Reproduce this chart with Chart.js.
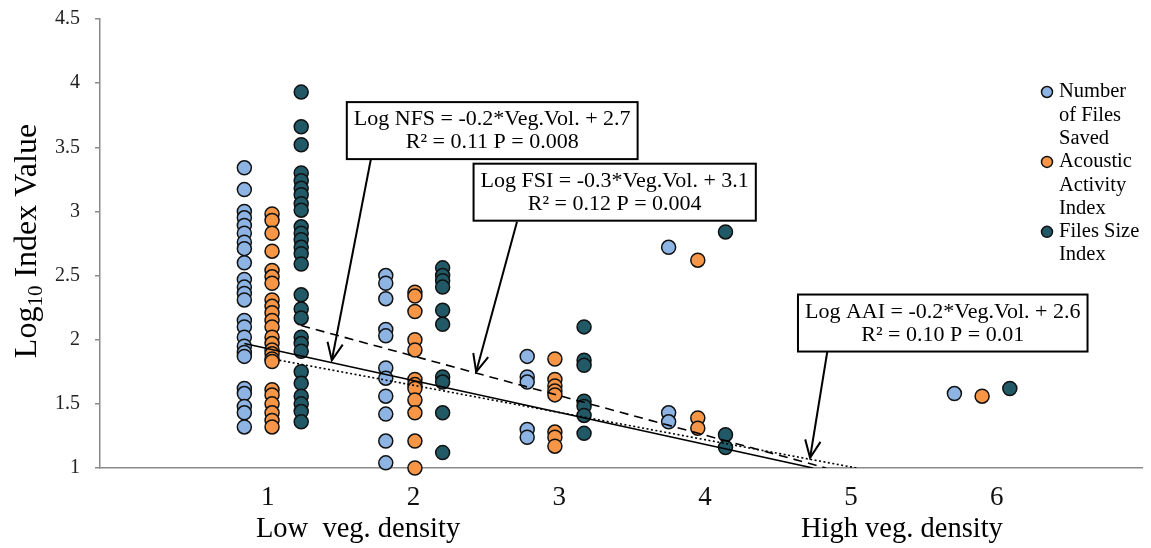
<!DOCTYPE html>
<html><head><meta charset="utf-8">
<script src="https://cdn.jsdelivr.net/npm/chart.js@4.4.1/dist/chart.umd.min.js"></script>
<style>html,body{margin:0;padding:0;background:#fff;}#wrap{width:1151px;height:548px;}</style>
</head><body><div id="wrap"><canvas id="c" width="1151" height="548"></canvas></div>
<script>
// ---- data ----
const seriesNames = ['Number of Files Saved', 'Acoustic Activity Index', 'Files Size Index'];
const xTickValues = [1, 2, 3, 4, 5, 6];
const yTickValues = [1, 1.5, 2, 2.5, 3, 3.5, 4, 4.5];
// x positions of each point column (one per density group 1,2,3,4,6)
const nfsX = [0.84, 1.81, 2.78, 3.75, 5.71];
const aaiX = [1.03, 2.01, 2.97, 3.95, 5.90];
const fsiX = [1.23, 2.20, 3.17, 4.14, 6.09];
const nfsValues = [
  [3.34,3.17,3.00,2.95,2.89,2.83,2.76,2.71,2.60,2.47,2.41,2.36,2.31,2.15,2.10,2.02,1.95,1.90,1.87,1.62,1.58,1.48,1.43,1.32],
  [2.50,2.44,2.32,2.08,2.03,1.78,1.70,1.56,1.42,1.21,1.04],
  [1.87,1.71,1.67,1.30,1.24],
  [2.72,1.43,1.36],
  [1.58]
];
const aaiValues = [
  [2.98,2.93,2.83,2.69,2.54,2.49,2.44,2.31,2.26,2.21,2.15,2.10,2.02,1.97,1.92,1.89,1.85,1.83,1.61,1.57,1.50,1.43,1.37,1.32],
  [2.37,2.34,2.22,2.00,1.92,1.69,1.65,1.62,1.53,1.43,1.21,1.00],
  [1.85,1.69,1.64,1.60,1.57,1.28,1.24,1.17],
  [2.62,1.39,1.31],
  [1.56]
];
const fsiValues = [
  [3.93,3.66,3.52,3.30,3.24,3.18,3.13,3.06,3.01,2.88,2.83,2.78,2.72,2.67,2.59,2.35,2.24,2.17,2.02,1.97,1.91,1.75,1.66,1.56,1.50,1.44,1.36],
  [2.56,2.50,2.46,2.41,2.23,2.12,1.71,1.67,1.43,1.12],
  [2.10,1.84,1.80,1.52,1.48,1.41,1.27],
  [2.84,1.26,1.16],
  [1.62]
];
// trend lines (start, end)
const nfsTrendX = [0.84, 4.74], nfsTrendY = [1.97, 1.00];
const fsiTrendX = [1.23, 4.83], fsiTrendY = [2.11, 1.00];
const aaiTrendX = [1.08, 5.04], aaiTrendY = [1.84, 1.00];
// regression labels
const nfsEq = ['Log NFS = -0.2*Veg.Vol. + 2.7', 'R\u00b2 = 0.11 P = 0.008'];
const fsiEq = ['Log FSI = -0.3*Veg.Vol. + 3.1', 'R\u00b2 = 0.12 P = 0.004'];
const aaiEq = ['Log AAI = -0.2*Veg.Vol. + 2.6', 'R\u00b2 = 0.10 P = 0.01'];
const legendLines = [['Number', 'of Files', 'Saved'], ['Acoustic', 'Activity', 'Index'], ['Files Size', 'Index']];
const densityLabels = ['Low  veg. density', 'High veg. density'];

// ---- styling ----
const FONT = '"Liberation Serif", "Times New Roman", serif';
const colors = ['#8DB4E2', '#F79646', '#215967'];

function toPoints(xs, vals) {
  const pts = [];
  vals.forEach((g, i) => g.forEach(v => pts.push({x: xs[i], y: v})));
  return pts;
}
function toLine(xs, ys) { return xs.map((x, i) => ({x, y: ys[i]})); }

const pointDs = (label, data, color) => ({
  type: 'scatter', label, data, order: 2, clip: false,
  pointRadius: 7, pointHoverRadius: 7, pointBackgroundColor: color,
  pointBorderColor: '#111', pointBorderWidth: 1.5, showLine: false
});
const lineDs = (label, data, dash) => ({
  type: 'line', label, data, order: 1, borderColor: '#000', borderWidth: 1.6,
  borderDash: dash, pointRadius: 0, fill: false, tension: 0
});

const annotations = {
  id: 'annotations',
  afterDatasetsDraw(chart) {
    const {ctx, scales: {x, y}} = chart;
    ctx.save();
    // arrows: [fromX, fromY, toX, toY] in data units
    const arrows = [[1.71, 3.42, 1.44, 1.84], [2.71, 2.92, 2.43, 1.75], [4.84, 1.92, 4.72, 1.08]];
    ctx.strokeStyle = '#000'; ctx.lineWidth = 2; ctx.setLineDash([]);
    arrows.forEach(a => {
      const x1 = x.getPixelForValue(a[0]), y1 = y.getPixelForValue(a[1]);
      const x2 = x.getPixelForValue(a[2]), y2 = y.getPixelForValue(a[3]);
      ctx.beginPath(); ctx.moveTo(x1, y1); ctx.lineTo(x2, y2); ctx.stroke();
      const ang = Math.atan2(y2 - y1, x2 - x1), L = 19, sp = 0.42;
      ctx.beginPath();
      ctx.moveTo(x2 - L * Math.cos(ang - sp), y2 - L * Math.sin(ang - sp));
      ctx.lineTo(x2, y2);
      ctx.lineTo(x2 - L * Math.cos(ang + sp), y2 - L * Math.sin(ang + sp));
      ctx.stroke();
    });
    // boxes: center in data units
    const boxes = [[nfsEq, 2.54, 3.63], [fsiEq, 3.38, 3.15], [aaiEq, 5.63, 2.13]];
    ctx.font = '22px ' + FONT;
    boxes.forEach(b => {
      const cx = x.getPixelForValue(b[1]), cy = y.getPixelForValue(b[2]);
      const w = Math.max(...b[0].map(t => ctx.measureText(t).width)) + 14;
      const h = 57;
      ctx.fillStyle = '#fff';
      ctx.fillRect(cx - w / 2, cy - h / 2, w, h);
      ctx.strokeStyle = '#000'; ctx.lineWidth = 2;
      ctx.strokeRect(cx - w / 2, cy - h / 2, w, h);
      ctx.fillStyle = '#000'; ctx.textAlign = 'center'; ctx.textBaseline = 'middle';
      ctx.fillText(b[0][0], cx, cy - 11);
      ctx.fillText(b[0][1], cx, cy + 12);
    });
    // legend
    ctx.textAlign = 'left'; ctx.textBaseline = 'middle';
    ctx.font = '20.5px ' + FONT;
    let ly = 92;
    legendLines.forEach((lines, i) => {
      ctx.beginPath(); ctx.arc(1047, ly, 5.5, 0, Math.PI * 2);
      ctx.fillStyle = colors[i]; ctx.fill();
      ctx.lineWidth = 1.5; ctx.strokeStyle = '#111'; ctx.stroke();
      ctx.fillStyle = '#000';
      lines.forEach(t => { ctx.fillText(t, 1059, ly); ly += 23.3; });
    });
    // density labels below x axis
    ctx.font = '28.5px ' + FONT; ctx.textAlign = 'center'; ctx.fillStyle = '#000';
    ctx.fillText(densityLabels[0], x.getPixelForValue(1.62), 530);
    ctx.fillText(densityLabels[1], x.getPixelForValue(5.35), 530);
    // y axis title with subscript
    ctx.translate(26, 241); ctx.rotate(-Math.PI / 2);
    const big = '32px ' + FONT, small = '21px ' + FONT;
    ctx.font = big; const w1 = ctx.measureText('Log').width, w3 = ctx.measureText(' Index Value').width;
    ctx.font = small; const w2 = ctx.measureText('10').width;
    let sx = -(w1 + w2 + w3) / 2;
    ctx.textAlign = 'left'; ctx.textBaseline = 'alphabetic';
    ctx.font = big; ctx.fillText('Log', sx, 10); sx += w1;
    ctx.font = small; ctx.fillText('10', sx, 16); sx += w2;
    ctx.font = big; ctx.fillText(' Index Value', sx, 10);
    ctx.restore();
  }
};

new Chart(document.getElementById('c'), {
  data: {
    datasets: [
      lineDs('NFS trend', toLine(nfsTrendX, nfsTrendY), []),
      lineDs('FSI trend', toLine(fsiTrendX, fsiTrendY), [9, 6]),
      lineDs('AAI trend', toLine(aaiTrendX, aaiTrendY), [2, 2.5]),
      pointDs(seriesNames[0], toPoints(nfsX, nfsValues), colors[0]),
      pointDs(seriesNames[1], toPoints(aaiX, aaiValues), colors[1]),
      pointDs(seriesNames[2], toPoints(fsiX, fsiValues), colors[2])
    ]
  },
  options: {
    responsive: false, animation: false,
    layout: {padding: {left: 0, right: 1, top: 19, bottom: 0}},
    plugins: {legend: {display: false}, tooltip: {enabled: false}, title: {display: false}},
    scales: {
      x: {
        type: 'linear', min: -0.15, max: 7.0,
        afterBuildTicks(s) { s.ticks = xTickValues.map(v => ({value: v})); },
        ticks: {autoSkip: false, color: '#111', font: {family: FONT, size: 27}, padding: 14, maxRotation: 0,
                callback: v => String(v)},
        grid: {display: true, drawOnChartArea: false, drawTicks: false, color: 'rgba(0,0,0,0)'},
        border: {display: true, color: '#8a8a8a', width: 1.5},
        afterFit(s) { s.height = 80; s.paddingLeft = 0; s.paddingRight = 0; }
      },
      y: {
        type: 'linear', min: 1, max: 4.5,
        afterBuildTicks(s) { s.ticks = yTickValues.map(v => ({value: v})); },
        ticks: {color: '#222', font: {family: FONT, size: 20}, padding: 15, callback: v => String(v)},
        grid: {display: true, drawOnChartArea: false, drawTicks: true, tickLength: 5, color: '#8a8a8a', lineWidth: 1.5},
        border: {display: true, color: '#8a8a8a', width: 1.5},
        afterFit(s) { s.width = 100; s.paddingTop = 0; s.paddingBottom = 0; }
      }
    }
  },
  plugins: [annotations]
});
</script></body></html>
